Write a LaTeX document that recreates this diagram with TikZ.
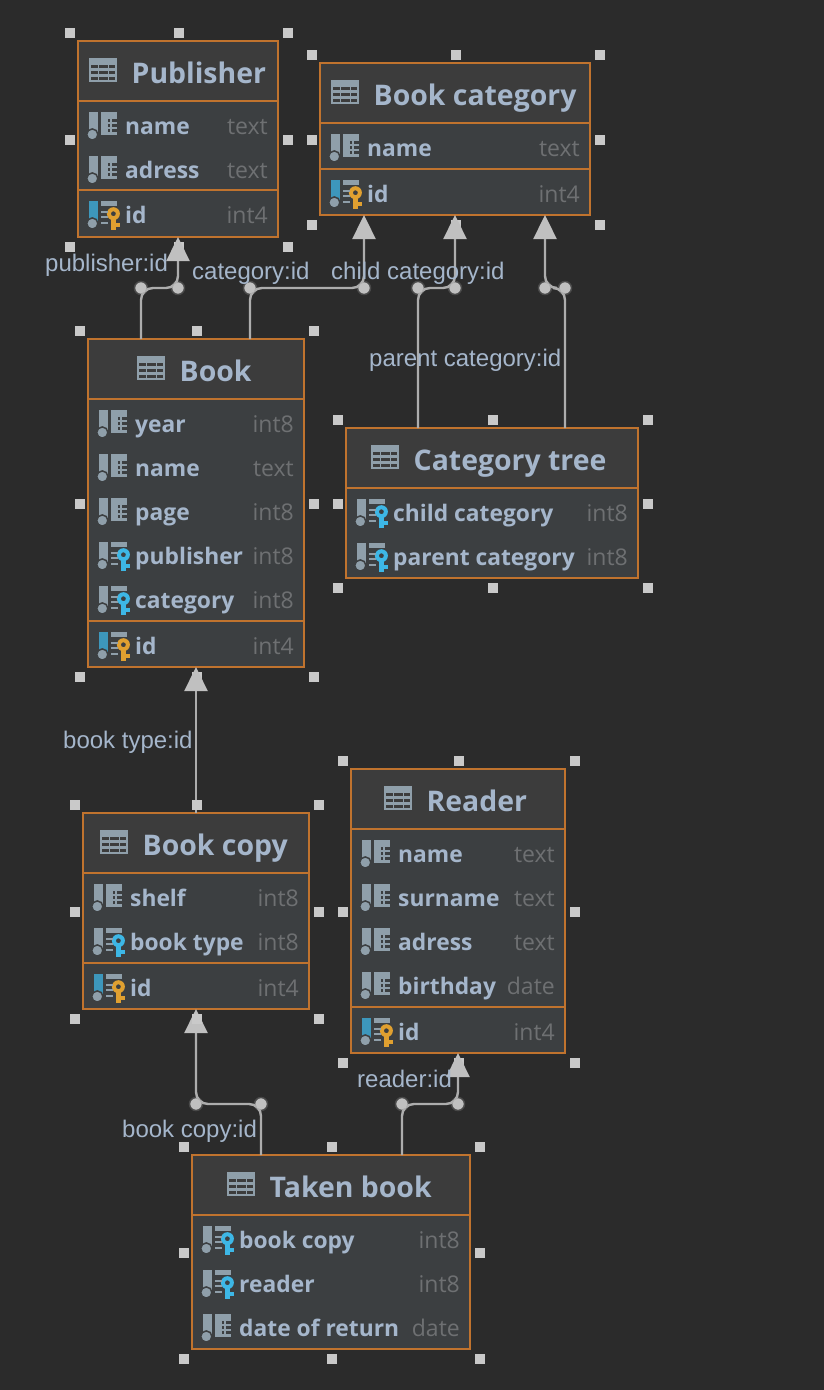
\documentclass[tikz,border=0pt]{standalone}
\usepackage{fontspec}
\setmainfont{Open Sans}
\newfontfamily\labelfont{Liberation Sans}
\usetikzlibrary{calc,arrows.meta}
\definecolor{canvas}{HTML}{2B2B2B}
\definecolor{rowfill}{HTML}{3C3F41}
\definecolor{headfill}{HTML}{3C3C3C}
\definecolor{edge}{HTML}{C0732E}
\definecolor{ink}{HTML}{A5B6CB}
\definecolor{typeink}{HTML}{6E7072}
\definecolor{iconink}{HTML}{8F9FAA}
\definecolor{pkblue}{HTML}{3D97BC}
\definecolor{fkkey}{HTML}{3DB7E6}
\definecolor{pkkey}{HTML}{E0A030}
\definecolor{grip}{HTML}{C9C9C9}
\definecolor{wire}{HTML}{ADADAD}
\definecolor{tipfill}{HTML}{C0C0C0}
\tikzset{
  tablebox/.style={draw=edge,line width=2pt,fill=rowfill,inner sep=0pt,outer sep=0pt,anchor=north west},
  titletext/.style={anchor=base west,inner sep=0pt,text=ink,font=\fontsize{28.4}{30}\selectfont\bfseries},
  nametext/.style={anchor=base west,inner sep=0pt,text=ink,font=\fontsize{22.8}{25}\selectfont\bfseries},
  typetext/.style={anchor=base east,inner sep=0pt,text=typeink,font=\fontsize{23}{25}\selectfont},
  wiretext/.style={anchor=base west,inner sep=0pt,text=ink,font=\labelfont\fontsize{24}{26}\selectfont},
  handle/.style={fill=grip,inner sep=0pt,minimum size=10pt},
  wiredot/.style={circle,fill=tipfill,draw=white!14!canvas,line width=1.5pt,inner sep=0pt,minimum size=13pt},
  wireline/.style={draw=wire,line width=2.4pt,rounded corners=12pt,-{Triangle[length=24pt,width=23pt,fill=tipfill,color=tipfill]}},
}
% small icons, x y is the left edge of the table and the middle of the row
\newcommand{\gridicon}[2]{
  \begin{scope}[shift={(#1,#2)}]
    \fill[iconink] (0,0) rectangle (28,24);
    \foreach \gy in {7,13,19}
      \foreach \gx/\gw in {2/6.5,10/8.5,20/6}
        \fill[headfill] (\gx,\gy) rectangle (\gx+\gw,\gy+3.4);
  \end{scope}}
\newcommand{\iconball}[3]{
  \fill[#3] (11,-14) rectangle (20,6);
  \fill[iconink,draw=rowfill,line width=1.5pt] (14.3,8.5) circle (5.6);}
\newcommand{\iconcol}[2]{
  \begin{scope}[shift={(#1,#2)}]
    \iconball{#1}{#2}{iconink}
    \fill[iconink] (23,-14) rectangle (39,9);
    \foreach \gy in {-7,-2,3.3} {
      \fill[rowfill] (29.5,\gy) rectangle (32,\gy+3);
      \fill[rowfill] (33.5,\gy) rectangle (38.5,\gy+3);
    }
  \end{scope}}
\newcommand{\keyshape}[3]{
  \begin{scope}[shift={(#1,#2)}]
    \fill[rowfill] (26,-9) rectangle (43,16);
    \fill[#3] (33,2) rectangle (38,15);
    \fill[#3] (37,8) rectangle (42,11.5);
    \fill[#3,even odd rule] (35.4,-1.3) circle (6.5) (35.4,-1.3) circle (2.5);
  \end{scope}}
\newcommand{\iconlines}[2]{
  \begin{scope}[shift={(#1,#2)}]
    \fill[iconink] (23,-14) rectangle (39,-9);
    \foreach \gy in {-3,2,8} \draw[iconink,line width=1.6pt] (23,\gy) -- (29.5,\gy);
  \end{scope}}
\newcommand{\iconfk}[2]{
  \begin{scope}[shift={(#1,#2)}]
    \iconball{#1}{#2}{iconink}
  \end{scope}
  \keyshape{#1}{#2}{fkkey}\iconlines{#1}{#2}}
\newcommand{\iconpk}[2]{
  \begin{scope}[shift={(#1,#2)}]
    \iconball{#1}{#2}{pkblue}
  \end{scope}
  \keyshape{#1}{#2}{pkkey}\iconlines{#1}{#2}}
% id, left, top, right, bottom, x of the table icon, title, separators, rows
\newcommand{\dbtable}[9]{
  \node[tablebox,minimum width={(#4-#2)*1pt},minimum height={(#5-#3)*1pt}] (#1) at (#2,#3) {};
  \fill[headfill] (#2+1,#3+1) rectangle (#4-1,#3+60);
  \gridicon{#6}{#3+17}
  \node[titletext] (#1-title) at (#6+42.5,#3+42.6) {#7};
  \foreach \sepy in {#8} \draw[edge,line width=2pt] (#2,\sepy) -- (#4,\sepy);
  \foreach \rowy/\rowname/\rowtype/\rowicon in {#9} {
    \rowicon{#2}{\rowy}
    \node[nametext] (#1-name-\rowy) at (#2+47,\rowy+8) {\rowname};
    \node[typetext] (#1-type-\rowy) at (#4-10,\rowy+8) {\rowtype};
  }}
\newcommand{\dbhandles}[1]{
  \foreach \hname/\hanchor/\hx/\hy in {nw/north west/-8/-8,n/north/1/-8,ne/north east/10/-8,
    w/west/-8/1,e/east/10/1,sw/south west/-8/10,s/south/1/10,se/south east/10/10}
    \node[handle] (#1-\hname) at ($(#1.\hanchor)+(\hx,\hy)$) {};}
\begin{document}
\begin{tikzpicture}[x=1pt,y=-1pt]
  \fill[canvas] (0,0) rectangle (824,1390);
  \useasboundingbox (0,0) rectangle (824,1390);

  % tables
  \dbtable{publisher}{78}{41}{278}{237}{89}{Publisher}{101,190}
    {126/name/text/\iconcol,170/adress/text/\iconcol,215/id/int4/\iconpk}
  \dbtable{bookcategory}{320}{63}{590}{215}{331}{Book category}{123,169}
    {148/name/text/\iconcol,194/id/int4/\iconpk}
  \dbtable{book}{88}{339}{304}{667}{137}{Book}{399,621}
    {424/year/int8/\iconcol,468/name/text/\iconcol,512/page/int8/\iconcol,
     556/publisher/int8/\iconfk,600/category/int8/\iconfk,646/id/int4/\iconpk}
  \dbtable{categorytree}{346}{428}{638}{578}{371}{Category tree}{488}
    {513/child category/int8/\iconfk,557/parent category/int8/\iconfk}
  \dbtable{reader}{351}{769}{565}{1053}{384}{Reader}{829,1007}
    {854/name/text/\iconcol,898/surname/text/\iconcol,942/adress/text/\iconcol,
     986/birthday/date/\iconcol,1032/id/int4/\iconpk}
  \dbtable{bookcopy}{83}{813}{309}{1009}{100}{Book copy}{873,963}
    {898/shelf/int8/\iconcol,942/book type/int8/\iconfk,988/id/int4/\iconpk}
  \dbtable{takenbook}{192}{1155}{470}{1349}{227}{Taken book}{1215}
    {1240/book copy/int8/\iconfk,1284/reader/int8/\iconfk,1328/date of return/date/\iconcol}

  \foreach \tbl in {publisher,bookcategory,book,categorytree,reader,takenbook} {\dbhandles{\tbl}}

  % bends of the connectors
  \node[wiredot] (pubA) at (141,288) {};
  \node[wiredot] (pubB) at (178,288) {};
  \node[wiredot] (catA) at (250,288) {};
  \node[wiredot] (catB) at (364,288) {};
  \node[wiredot] (childA) at (418,288) {};
  \node[wiredot] (childB) at (455,288) {};
  \node[wiredot] (parentA) at (565,288) {};
  \node[wiredot] (parentB) at (545,288) {};
  \node[wiredot] (copyA) at (261,1104) {};
  \node[wiredot] (copyB) at (196,1104) {};
  \node[wiredot] (readerA) at (402,1104) {};
  \node[wiredot] (readerB) at (458,1104) {};

  % connectors
  \draw[wireline] (book.north -| pubA.center) -- (pubA.center) -- (pubB.center) -- (publisher.south -| pubB.center);
  \draw[wireline] (book.north -| catA.center) -- (catA.center) -- (catB.center) -- (bookcategory.south -| catB.center);
  \draw[wireline] (categorytree.north -| childA.center) -- (childA.center) -- (childB.center) -- (bookcategory.south -| childB.center);
  \draw[wireline] (categorytree.north -| parentA.center) -- (parentA.center) -- (parentB.center) -- (bookcategory.south -| parentB.center);
  \draw[wireline] (bookcopy.north) -- (book.south -| bookcopy.north);
  \draw[wireline] (takenbook.north -| copyA.center) -- (copyA.center) -- (copyB.center) -- (bookcopy.south -| copyB.center);
  \draw[wireline] (takenbook.north -| readerA.center) -- (readerA.center) -- (readerB.center) -- (reader.south -| readerB.center);
  \dbhandles{bookcopy}

  % dots sit on top of the lines
  \foreach \dotname in {pubA,pubB,catA,catB,childA,childB,parentA,parentB,copyA,copyB,readerA,readerB}
    \fill[tipfill] (\dotname.center) circle (5.2);

  % connector labels
  \node[wiretext] (pubLabel) at (45,271) {publisher:id};
  \node[wiretext] (catLabel) at (192,279) {category:id};
  \node[wiretext] (childLabel) at (331,279) {child category:id};
  \node[wiretext] (parentLabel) at (369,366) {parent category:id};
  \node[wiretext] (typeLabel) at (63,748) {book type:id};
  \node[wiretext] (copyLabel) at (122,1137) {book copy:id};
  \node[wiretext] (readerLabel) at (357,1087) {reader:id};
\end{tikzpicture}
\end{document}
